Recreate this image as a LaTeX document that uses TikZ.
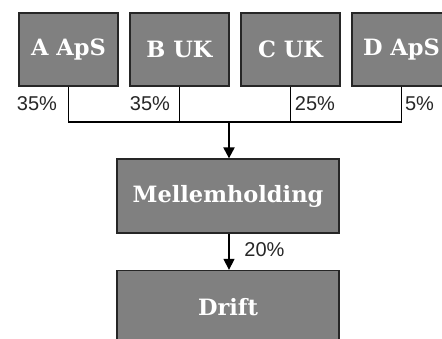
\documentclass[tikz,border=0pt]{standalone}
\usepackage{fontspec}
\setmainfont{DejaVu Serif}
\newfontfamily\pctfont{Liberation Sans}
\usetikzlibrary{arrows.meta}
\tikzset{
  company/.style={draw=black!85, line width=1.3pt, fill=black!50, text=white,
    minimum width=99pt, minimum height=73pt, inner sep=0pt,
    font=\fontsize{22.5}{26}\selectfont\bfseries},
  widebox/.style={company, minimum width=222pt, minimum height=74pt},
  pct/.style={font=\pctfont\fontsize{20}{23}\selectfont, text=black!85, inner sep=0pt},
  link/.style={draw=black, line width=1.3pt},
  mainlink/.style={draw=black, line width=2.2pt},
  arr/.style={-{Triangle[length=11pt,width=11pt]}}
}
\begin{document}
\begin{tikzpicture}[x=1pt,y=1pt]
\useasboundingbox (0,0) rectangle (442,-338);
\clip (0,0) rectangle (442,-338);
\node[company] (A) at (68.5,-49.5) {A ApS};
\node[company] (B) at (179.5,-49.5) {B UK};
\node[company] (C) at (290.5,-49.5) {C UK};
\node[company] (D) at (401.5,-49.5) {D ApS};
\node[widebox] (M) at (228,-196) {Mellemholding};
\node[widebox] (Dr) at (228,-307.5) {Drift};
\coordinate (J) at (229,-122);
\draw[link] (A.south) |- (J);
\draw[link] (D.south) |- (J);
\draw[link] (B.south) |- (J);
\draw[link] (C.south) |- (J);
\draw[mainlink] (B.south |- J) -- (C.south |- J);
\draw[mainlink,arr] (J) -- (J |- M.north);
\draw[link,arr] (M.south -| J) -- (Dr.north -| J);
\node[pct] (pa) at (37,-103.5) {35\%};
\node[pct] (pb) at (150,-103.5) {35\%};
\node[pct] (pc) at (315,-103.5) {25\%};
\node[pct] (pd) at (419.5,-103.5) {5\%};
\node[pct] (pm) at (264.5,-250) {20\%};
\end{tikzpicture}
\end{document}
